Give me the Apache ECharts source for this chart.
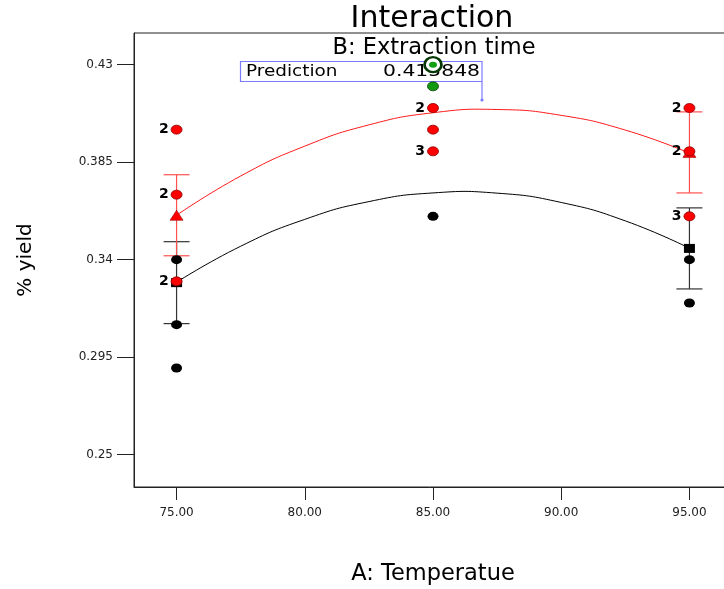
<!DOCTYPE html>
<html>
<head>
<meta charset="utf-8">
<script src="https://cdn.jsdelivr.net/npm/echarts@6/dist/echarts.min.js"></script>
<style>html,body{margin:0;padding:0;background:#fff;}#c{width:724px;height:589px;}</style>
</head>
<body>
<div id="c"></div>
<script>
// ---- data ----
const xTicks = [75, 80, 85, 90, 95];
const yTicks = [0.25, 0.295, 0.34, 0.385, 0.43];

// fitted model curves (read at 2.5 steps)
const curveX = [75, 77.5, 80, 82.5, 85, 87.5, 90, 92.5, 95];
const redCurve = [0.3605, 0.3786, 0.3924, 0.4022, 0.4078, 0.4093, 0.4066, 0.3998, 0.3892];
const blackCurve = [0.3296, 0.3462, 0.3586, 0.3668, 0.3708, 0.3707, 0.3664, 0.3579, 0.3453];

// observed design points: [x, y, count]
const redPoints = [
  [75, 0.40, 2], [75, 0.37, 2], [75, 0.33, 2],
  [85, 0.41, 2], [85, 0.40, 1], [85, 0.39, 3],
  [95, 0.41, 2], [95, 0.39, 2], [95, 0.36, 3]
];
const blackPoints = [
  [75, 0.34], [75, 0.31], [75, 0.29],
  [85, 0.36],
  [95, 0.34], [95, 0.32]
];
const greenPoints = [[85, 0.42]];
const predictionPoint = [[85, 0.43]];

// means with LSD bars: [x, mean, low, high]
const redMeans = [[75, 0.3605, 0.3418, 0.3792], [95, 0.3895, 0.3708, 0.4082]];
const blackMeans = [[75, 0.3294, 0.3105, 0.3483], [95, 0.3452, 0.3265, 0.3639]];

const titleText = 'Interaction';
const subTitleText = 'B: Extraction time';
const predictionLabel = 'Prediction';
const predictionValue = '0.415848';
const xName = 'A: Temperatue';
const yName = '% yield';

// ---- chart ----
const FONT = 'DejaVu Sans';
const chart = echarts.init(document.getElementById('c'), null, {renderer: 'canvas'});

function errorBarSeries(data, color, z) {
  return {
    type: 'custom',
    z: z,
    data: data.map(d => [d[0], d[2], d[3]]),
    encode: {x: 0, y: [1, 2]},
    renderItem: function (params, api) {
      const x = api.value(0);
      const lo = api.coord([x, api.value(1)]);
      const hi = api.coord([x, api.value(2)]);
      const hw = 13;
      const st = {stroke: color, lineWidth: 1.2};
      return {
        type: 'group',
        children: [
          {type: 'line', shape: {x1: lo[0], y1: lo[1], x2: hi[0], y2: hi[1]}, style: st},
          {type: 'line', shape: {x1: lo[0] - hw, y1: lo[1], x2: lo[0] + hw, y2: lo[1]}, style: st},
          {type: 'line', shape: {x1: hi[0] - hw, y1: hi[1], x2: hi[0] + hw, y2: hi[1]}, style: st}
        ]
      };
    }
  };
}

function curveSeries(xs, ys, color) {
  return {
    type: 'custom',
    z: 3,
    data: [[xs[0], ys[0]]],
    encode: {x: 0, y: 1},
    renderItem: function (params, api) {
      const pts = xs.map((x, i) => api.coord([x, ys[i]]));
      return {
        type: 'polyline',
        shape: {points: pts, smooth: 0.5},
        style: {stroke: color, fill: null, lineWidth: 1}
      };
    }
  };
}

const countLabel = {
  show: true,
  position: 'left',
  distance: 2,
  fontFamily: FONT,
  fontWeight: 'bold',
  fontSize: 14,
  color: '#000',
  formatter: p => (p.value[2] > 1 ? String(p.value[2]) : '')
};

const option = {
  animation: false,
  backgroundColor: '#fff',
  grid: {
    left: 134, top: 33, width: 598, height: 454,
    outerBoundsMode: 'none', containLabel: false,
    show: true, borderColor: '#222', borderWidth: 1, backgroundColor: 'transparent'
  },
  xAxis: {
    type: 'value',
    min: 73.34, max: 96.66,
    name: xName,
    nameLocation: 'middle',
    nameGap: 76,
    nameTextStyle: {fontFamily: FONT, fontSize: 22.5, color: '#000'},
    axisLine: {show: true, onZero: false, lineStyle: {color: '#222', width: 1}},
    axisTick: {show: true, length: 13, customValues: xTicks, lineStyle: {color: '#222'}},
    axisLabel: {
      customValues: xTicks, margin: 20,
      fontFamily: FONT, fontSize: 12, color: '#222',
      formatter: v => Number(v).toFixed(2)
    },
    splitLine: {show: false}
  },
  yAxis: {
    type: 'value',
    min: 0.2351, max: 0.4446,
    name: yName,
    nameLocation: 'middle',
    nameGap: 98,
    nameTextStyle: {fontFamily: FONT, fontSize: 20, color: '#000'},
    axisLine: {show: true, onZero: false, lineStyle: {color: '#222', width: 1}},
    axisTick: {show: true, length: 17, customValues: yTicks, lineStyle: {color: '#222'}},
    axisLabel: {
      customValues: yTicks, margin: 21,
      fontFamily: FONT, fontSize: 12, color: '#222',
      formatter: v => String(Number(v.toFixed(3)))
    },
    splitLine: {show: false}
  },
  graphic: [
    {type: 'text', x: 432, y: 19, z: 1,
      style: {text: titleText, fontFamily: FONT, fontSize: 30, fill: '#000', textAlign: 'center', textVerticalAlign: 'middle'}},
    {type: 'text', x: 434, y: 48, z: 1,
      style: {text: subTitleText, fontFamily: FONT, fontSize: 22.5, fill: '#000', textAlign: 'center', textVerticalAlign: 'middle'}},
    {type: 'rect', z: 1, shape: {x: 240.5, y: 61.5, width: 241.5, height: 20},
      style: {fill: 'rgba(255,255,255,0)', stroke: '#7b7bff', lineWidth: 1.2}},
    {type: 'line', z: 1, shape: {x1: 482, y1: 81.5, x2: 482, y2: 100},
      style: {stroke: '#7b7bff', lineWidth: 1.2}},
    {type: 'circle', z: 1, shape: {cx: 482, cy: 100, r: 1.6}, style: {fill: '#7b7bff'}},
    {type: 'text', x: 246, y: 72, z: 1, scaleX: 1.15,
      style: {text: predictionLabel, fontFamily: FONT, fontSize: 16, fill: '#000', textAlign: 'left', textVerticalAlign: 'middle'}},
    {type: 'text', x: 480, y: 72, z: 1, scaleX: 1.27,
      style: {text: predictionValue, fontFamily: FONT, fontSize: 16, fill: '#000', textAlign: 'right', textVerticalAlign: 'middle'}}
  ],
  series: [
    curveSeries(curveX, blackCurve, '#000'),
    curveSeries(curveX, redCurve, '#ff1a1a'),
    errorBarSeries(blackMeans, '#333', 4),
    errorBarSeries(redMeans, '#ff5050', 4),
    {type: 'scatter', z: 5, symbol: 'circle', symbolSize: [11, 9],
      data: blackPoints, itemStyle: {color: '#000', opacity: 1}},
    {type: 'scatter', z: 6, symbol: 'rect', symbolSize: [11, 9],
      data: blackMeans.map(d => [d[0], d[1]]), itemStyle: {color: '#000', opacity: 1}},
    {type: 'scatter', z: 6, symbol: 'triangle', symbolSize: [13, 10],
      data: redMeans.map(d => [d[0], d[1]]), itemStyle: {color: '#f00', borderColor: '#900', borderWidth: 0.6, opacity: 1}},
    {type: 'scatter', z: 7, symbol: 'circle', symbolSize: [11, 9],
      data: redPoints, label: countLabel,
      itemStyle: {color: '#f00', borderColor: '#8a0000', borderWidth: 0.8, opacity: 1}},
    {type: 'scatter', z: 7, symbol: 'circle', symbolSize: [11, 9],
      data: greenPoints, itemStyle: {color: '#109a10', borderColor: '#064006', borderWidth: 0.8, opacity: 1}},
    {type: 'scatter', z: 8, symbol: 'circle', symbolSize: [17, 15],
      data: predictionPoint, itemStyle: {color: '#fff', borderColor: '#063806', borderWidth: 2.6, opacity: 1}},
    {type: 'scatter', z: 9, symbol: 'circle', symbolSize: [8, 6],
      data: predictionPoint, itemStyle: {color: '#12a012', opacity: 1}}
  ]
};
chart.setOption(option);
</script>
</body>
</html>
